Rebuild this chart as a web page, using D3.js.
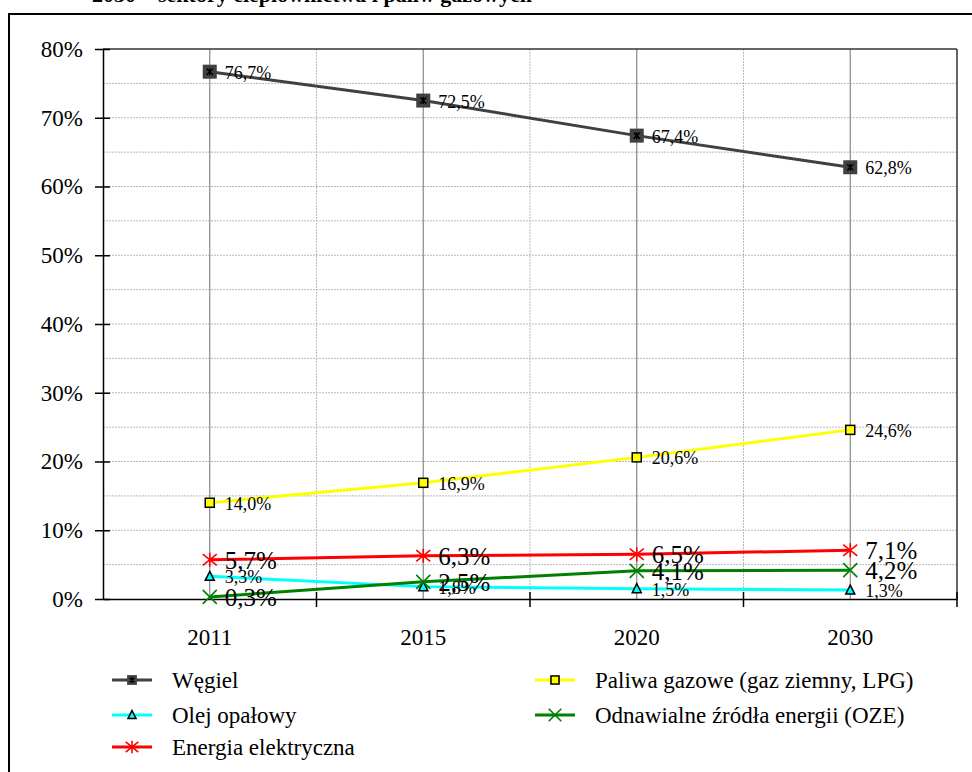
<!DOCTYPE html>
<html><head><meta charset="utf-8">
<script src="https://cdn.jsdelivr.net/npm/d3@7"></script>
<style>body{margin:0;background:#fff}svg{display:block}svg text{font-family:"Liberation Serif","Times New Roman",serif !important}</style>
</head><body>
<svg id="c" width="972" height="772"></svg>
<script>
const categories = ["2011","2015","2020","2030"];
const wegiel = [76.7, 72.5, 67.4, 62.8];
const paliwa = [14.0, 16.9, 20.6, 24.6];
const olej = [3.3, 1.8, 1.5, 1.3];
const energia = [5.7, 6.3, 6.5, 7.1];
const oze = [0.3, 2.5, 4.1, 4.2];
const yTicks = [0,10,20,30,40,50,60,70,80];
const seriesNames = ["Węgiel","Paliwa gazowe (gaz ziemny, LPG)","Olej opałowy","Odnawialne źródła energii (OZE)","Energia elektryczna"];
const titleText = "2030 – sektory ciepłownictwa i paliw gazowych";

const FONT = "'Liberation Serif', 'Times New Roman', serif";
const series = [
  {name: seriesNames[0], values: wegiel, color: "#404040", marker: "sqx", big: false},
  {name: seriesNames[1], values: paliwa, color: "#ffff00", marker: "sq", big: false},
  {name: seriesNames[2], values: olej, color: "#00ffff", marker: "tri", big: false},
  {name: seriesNames[3], values: oze, color: "#008000", marker: "x", big: true},
  {name: seriesNames[4], values: energia, color: "#ff0000", marker: "star", big: true}
];

const svg = d3.select("#c").style("font-family", FONT);
const L = 103, R = 957, T = 49, B = 599;
const x = d3.scaleBand().domain(categories).range([L, R]);
const y = d3.scaleLinear().domain([0, 80]).range([B, T]);
const cx = c => x(c) + x.bandwidth()/2;

svg.append("text").attr("x", 92).attr("y", 2).attr("font-size", 22).attr("font-weight", "bold").style("font-family", FONT).text(titleText);
svg.append("rect").attr("x", 9).attr("y", 14).attr("width", 990).attr("height", 800)
  .attr("fill", "none").attr("stroke", "#000").attr("stroke-width", 2);

const g = svg.append("g");
d3.range(5, 80, 5).forEach(v => {
  g.append("line").attr("x1", L).attr("x2", R).attr("y1", y(v)).attr("y2", y(v))
    .attr("stroke", "#b8b8b8").attr("stroke-dasharray", "2,1");
});
categories.forEach((c, i) => {
  if (i > 0) g.append("line").attr("x1", x(c)).attr("x2", x(c)).attr("y1", T).attr("y2", B)
    .attr("stroke", "#b8b8b8").attr("stroke-dasharray", "2,1");
  g.append("line").attr("x1", cx(c)).attr("x2", cx(c)).attr("y1", T).attr("y2", B)
    .attr("stroke", "#888").attr("stroke-width", 1.2);
});
svg.append("line").attr("x1", L).attr("x2", R).attr("y1", T).attr("y2", T).attr("stroke", "#333").attr("stroke-width", 1.5);
svg.append("line").attr("x1", R).attr("x2", R).attr("y1", T).attr("y2", B).attr("stroke", "#333").attr("stroke-width", 1.5);

const yAxis = d3.axisLeft(y).tickValues(yTicks).tickFormat(d => d + "%").tickSizeInner(8).tickSizeOuter(0).tickPadding(12);
const ya = svg.append("g").attr("transform", `translate(${L},0)`).call(yAxis).attr("font-family", null);
ya.select(".domain").attr("stroke", "#000").attr("stroke-width", 1.5);
ya.selectAll(".tick line").attr("x2", -8).attr("x1", 7).attr("stroke", "#000").attr("stroke-width", 1.5);
ya.selectAll(".tick text").attr("font-size", 23).style("font-family", FONT).attr("fill", "#000");

const xAxis = d3.axisBottom(x).tickSize(0).tickPadding(30);
const xa = svg.append("g").attr("transform", `translate(0,${B})`).call(xAxis).attr("font-family", null);
xa.select(".domain").attr("stroke", "#000").attr("stroke-width", 1.5);
xa.selectAll(".tick text").attr("font-size", 23).style("font-family", FONT).attr("fill", "#000");
categories.forEach((c, i) => {
  if (i === 0) return;
  svg.append("line").attr("x1", x(c)).attr("x2", x(c)).attr("y1", B - 7).attr("y2", B + 8).attr("stroke", "#000").attr("stroke-width", 1.5);
});
svg.append("line").attr("x1", R).attr("x2", R).attr("y1", B - 7).attr("y2", B + 8).attr("stroke", "#000").attr("stroke-width", 1.5);

function drawMarker(sel, type, color, px, py, scale) {
  const s = scale || 1;
  if (type === "sqx") {
    sel.append("rect").attr("x", px-7*s).attr("y", py-7*s).attr("width", 14*s).attr("height", 14*s).attr("fill", "#404040");
    sel.append("path").attr("d", `M${px-3*s},${py-3*s}L${px+3*s},${py+3*s}M${px+3*s},${py-3*s}L${px-3*s},${py+3*s}M${px},${py-3.5*s}L${px},${py+3.5*s}`).attr("stroke", "#000").attr("stroke-width", 1.5);
  } else if (type === "sq") {
    sel.append("rect").attr("x", px-4.5*s).attr("y", py-4.5*s).attr("width", 9*s).attr("height", 9*s).attr("fill", "#ffff00").attr("stroke", "#000").attr("stroke-width", 1.5);
  } else if (type === "tri") {
    sel.append("path").attr("d", `M${px},${py-5*s}L${px+4.5*s},${py+4*s}L${px-4.5*s},${py+4*s}Z`).attr("fill", "#00ffff").attr("stroke", "#000").attr("stroke-width", 1.5);
  } else if (type === "x") {
    const r = 7*s;
    sel.append("path").attr("d", `M${px-r},${py-r}L${px+r},${py+r}M${px+r},${py-r}L${px-r},${py+r}`).attr("stroke", color).attr("stroke-width", 1.6);
  } else if (type === "star") {
    const r = 7*s;
    sel.append("path").attr("d", `M${px-r},${py-r*0.8}L${px+r},${py+r*0.8}M${px+r},${py-r*0.8}L${px-r},${py+r*0.8}M${px},${py-r}L${px},${py+r}`).attr("stroke", color).attr("stroke-width", 1.6);
  }
}

const line = d3.line().x((d, i) => cx(categories[i])).y(d => y(d));
const plot = svg.append("g");
series.forEach(s => {
  plot.append("path").datum(s.values).attr("d", line).attr("fill", "none").attr("stroke", s.color).attr("stroke-width", 3);
});
series.forEach(s => {
  s.values.forEach((v, i) => {
    const px = cx(categories[i]), py = y(v);
    drawMarker(plot, s.marker, s.color, px, py, 1);
    plot.append("text").attr("x", px + 15).attr("y", py + (s.big ? 9 : 7))
      .attr("font-size", s.big ? 25 : 18).attr("fill", "#000").style("font-family", FONT)
      .text(v.toFixed(1).replace(".", ",") + "%");
  });
});

const legendPos = [
  {x: 112, y: 680}, {x: 535, y: 680},
  {x: 112, y: 715}, {x: 535, y: 715},
  {x: 112, y: 747}
];
series.forEach((s, i) => {
  const p = legendPos[i];
  const lg = svg.append("g");
  lg.append("line").attr("x1", p.x).attr("x2", p.x + 40).attr("y1", p.y).attr("y2", p.y).attr("stroke", s.color).attr("stroke-width", 3);
  drawMarker(lg, s.marker, s.color, p.x + 20, p.y, s.marker === "sqx" ? 0.7 : 0.9);
  lg.append("text").attr("x", p.x + 60).attr("y", p.y + 8).attr("font-size", 23).attr("fill", "#000").style("font-family", FONT).text(s.name);
});
</script>
</body></html>
